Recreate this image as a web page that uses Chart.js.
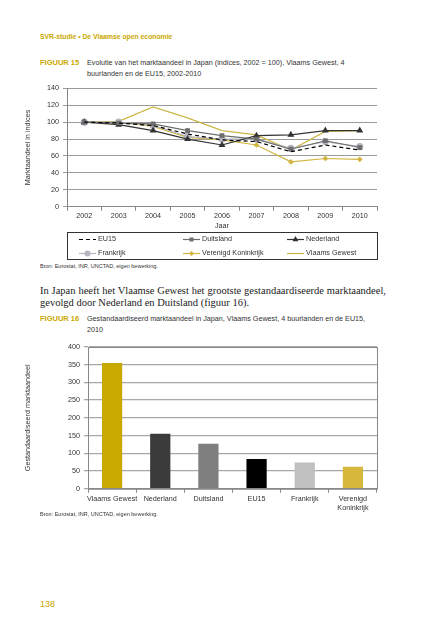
<!DOCTYPE html>
<html>
<head>
<meta charset="utf-8">
<script src="https://cdn.jsdelivr.net/npm/chart.js@4"></script>
<style>
  body { margin:0; background:#fff; width:427px; height:640px; position:relative; overflow:hidden;
         font-family:"Liberation Sans", Arial, sans-serif; color:#333; }
  .t { position:absolute; white-space:nowrap; }
  .gold { color:#c9a800; font-weight:bold; }
  canvas { position:absolute; }
  .para { position:absolute; left:40px; top:285px; width:346px; font-family:"Liberation Serif", serif;
          font-size:10.5px; line-height:12px; text-align:justify; color:#222; }
</style>
</head>
<body>
<div class="t gold" style="left:40px;top:32px;font-size:6.8px;line-height:10px;">SVR-studie &bull; De Vlaamse open economie</div>

<div class="t gold" style="left:40px;top:57px;font-size:7.5px;line-height:11px;">FIGUUR 15</div>
<div class="t" style="left:87px;top:57px;font-size:7.2px;line-height:11px;">Evolutie van het marktaandeel in Japan (indices, 2002 = 100), Vlaams Gewest, 4<br>buurlanden en de EU15, 2002-2010</div>
<canvas id="lineChart" width="370" height="182" style="left:20px;top:80px;"></canvas>
<div class="t" style="left:40px;top:262px;font-size:5.5px;line-height:8px;">Bron: Eurostat, INR, UNCTAD, eigen bewerking.</div>

<div class="para">In Japan heeft het Vlaamse Gewest het grootste gestandaardiseerde marktaandeel, gevolgd door Nederland en Duitsland (figuur 16).</div>

<div class="t gold" style="left:40px;top:313px;font-size:7.5px;line-height:11px;">FIGUUR 16</div>
<div class="t" style="left:87px;top:313px;font-size:7.2px;line-height:11px;">Gestandaardiseerd marktaandeel in Japan, Vlaams Gewest, 4 buurlanden en de EU15,<br>2010</div>
<canvas id="barChart" width="370" height="176" style="left:20px;top:338px;"></canvas>
<div class="t" style="left:40px;top:510px;font-size:5.5px;line-height:8px;">Bron: Eurostat, INR, UNCTAD, eigen bewerking.</div>

<div class="t" style="left:40px;top:598px;font-size:9px;line-height:12px;color:#c9a800;">138</div>

<script>
// figuur 15: marktaandeel in Japan, indices 2002 = 100
const jaren = ['2002', '2003', '2004', '2005', '2006', '2007', '2008', '2009', '2010'];
const eu15        = [100, 99, 96, 86, 79, 77, 65, 73, 67];
const duitsland   = [100, 99, 98, 90, 84, 80, 68, 78, 70];
const nederland   = [100, 97, 90, 80, 73, 84, 85, 90, 90];
const frankrijk   = [100, 100, 96, 83, 80, 80, 69, 77, 71];
const verenigdKon = [100, 100, 95, 82, 79, 73, 53, 57, 56];
const vlaamsGew   = [100, 101, 118, 105, 90, 85, 67, 89, 90];

// figuur 16: gestandaardiseerd marktaandeel 2010
const landen = ['Vlaams Gewest', 'Nederland', 'Duitsland', 'EU15', 'Frankrijk', ['Verenigd', 'Koninkrijk']];
const marktaandeel2010 = [355, 155, 127, 84, 74, 62];
const balkKleuren = ['#c9a800', '#3b3b3b', '#7f7f7f', '#000000', '#c0c0c0', '#d6b93c'];

Chart.defaults.font.family = '"Liberation Sans", Arial, sans-serif';
Chart.defaults.font.size = 7.2;
Chart.defaults.color = '#333';

// legend in a box with 3 columns, drawn under the x axis
const boxLegend = {
  id: 'boxLegend',
  afterDraw(chart) {
    const ctx = chart.ctx;
    const left = 47, top = 152, right = 357, bottom = 179;
    ctx.save();
    ctx.strokeStyle = '#333';
    ctx.lineWidth = 1;
    ctx.strokeRect(left + 0.5, top + 0.5, right - left, bottom - top);
    const cols = [59, 163, 267];
    const rows = [159, 173];
    chart.data.datasets.forEach((ds, i) => {
      const x = cols[i % 3], y = rows[Math.floor(i / 3)];
      ctx.strokeStyle = ds.borderColor;
      ctx.lineWidth = ds.borderWidth;
      ctx.setLineDash(ds.borderDash || []);
      ctx.beginPath();
      ctx.moveTo(x, y + 0.5);
      ctx.lineTo(x + 17, y + 0.5);
      ctx.stroke();
      ctx.setLineDash([]);
      if (ds.pointRadius > 0) {
        ctx.fillStyle = ds.pointBackgroundColor;
        ctx.strokeStyle = ds.borderColor;
        Chart.helpers.drawPoint(ctx, {
          pointStyle: ds.pointStyle, radius: ds.pointRadius * 0.8, borderWidth: 1, rotation: 0
        }, x + 8.5, y + 0.5);
      }
      ctx.fillStyle = '#333';
      ctx.font = '7.2px "Liberation Sans", Arial, sans-serif';
      ctx.textBaseline = 'middle';
      ctx.fillText(ds.label, x + 19, y + 0.5);
    });
    ctx.restore();
  }
};

function serie(label, data, kleur, stijl, straal, dash) {
  return {
    label: label, data: data, borderColor: kleur, backgroundColor: kleur,
    pointBackgroundColor: kleur, pointBorderColor: kleur,
    pointStyle: stijl, pointRadius: straal, borderWidth: 1.2,
    borderDash: dash, tension: 0, fill: false
  };
}

new Chart(document.getElementById('lineChart').getContext('2d'), {
  type: 'line',
  data: {
    labels: jaren,
    datasets: [
      serie('EU15', eu15, '#000000', 'circle', 0, [4, 3]),
      serie('Duitsland', duitsland, '#6e6e6e', 'rect', 2.5),
      serie('Nederland', nederland, '#333333', 'triangle', 2.8),
      serie('Frankrijk', frankrijk, '#b4b6c0', 'circle', 3),
      serie('Verenigd Koninkrijk', verenigdKon, '#d2b540', 'rectRot', 2),
      serie('Vlaams Gewest', vlaamsGew, '#cdb648', 'circle', 0)
    ]
  },
  options: {
    responsive: false,
    animation: false,
    layout: { padding: { top: 8, right: 13, bottom: 32, left: 4 } },
    plugins: { legend: { display: false }, tooltip: { enabled: false } },
    scales: {
      x: {
        offset: true,
        grid: { offset: true, drawOnChartArea: false, tickLength: 4, color: '#888' },
        border: { color: '#888' },
        ticks: { padding: 1, autoSkip: false, maxRotation: 0 },
        title: { display: true, text: 'Jaar', padding: { top: 0, bottom: 0 } }
      },
      y: {
        min: 0, max: 140,
        afterFit(scale) { scale.width = 43; },
        ticks: { stepSize: 20, padding: 4 },
        grid: { color: '#9a9a9a', tickLength: 4 },
        border: { color: '#888' },
        title: { display: true, text: 'Marktaandeel in indices', padding: { top: 0, bottom: 6 } }
      }
    }
  },
  plugins: [boxLegend]
});

// frame around the bar plot
const kader = {
  id: 'kader',
  afterDraw(chart) {
    const a = chart.chartArea, ctx = chart.ctx;
    ctx.save();
    ctx.strokeStyle = '#888';
    ctx.lineWidth = 1;
    ctx.strokeRect(a.left + 0.5, a.top + 0.5, a.right - a.left, a.bottom - a.top);
    ctx.restore();
  }
};

new Chart(document.getElementById('barChart').getContext('2d'), {
  type: 'bar',
  data: {
    labels: landen,
    datasets: [{ data: marktaandeel2010, backgroundColor: balkKleuren, borderWidth: 0,
                 barPercentage: 0.42, categoryPercentage: 1 }]
  },
  options: {
    responsive: false,
    animation: false,
    layout: { padding: { top: 9, right: 13, bottom: 0, left: 4 } },
    plugins: { legend: { display: false }, tooltip: { enabled: false } },
    scales: {
      x: {
        grid: { offset: true, drawOnChartArea: false, tickLength: 4, color: '#888' },
        border: { color: '#888' },
        ticks: { padding: 2, maxRotation: 0, autoSkip: false }
      },
      y: {
        min: 0, max: 400,
        afterFit(scale) { scale.width = 64; },
        ticks: { stepSize: 50, padding: 4 },
        grid: { color: '#a8a8a8', lineWidth: 1.3, tickLength: 4 },
        border: { color: '#888' },
        title: { display: true, text: 'Gestandaardiseerd marktaandeel', padding: { top: 0, bottom: 22 } }
      }
    }
  },
  plugins: [kader]
});
</script>
</body>
</html>
